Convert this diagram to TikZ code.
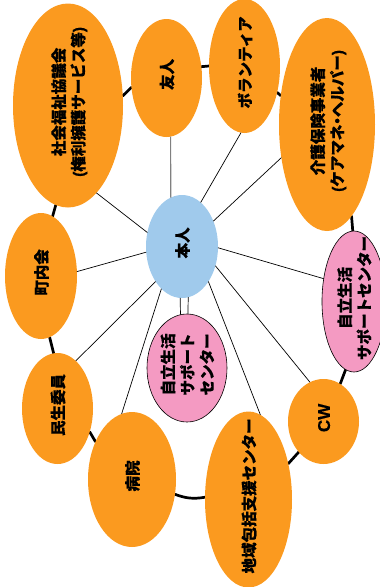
\documentclass[tikz,border=0pt]{standalone}
\usepackage{fontspec}
\usetikzlibrary{shapes.geometric,backgrounds}
\newfontfamily\jpfont[BoldFeatures={FakeBold=0.4}]{Noto Sans CJK JP}
\newfontfamily\latfont[BoldFeatures={FakeBold=0.4}]{Liberation Sans}
\definecolor{orangefill}{HTML}{FB9A1F}
\definecolor{bluefill}{HTML}{A0CAEC}
\definecolor{pinkfill}{HTML}{F49AC2}
\newcommand{\vlabel}[1]{\makebox[0pt]{\hspace{5pt}\raisebox{0pt}[0pt][0pt]{\rotatebox[origin=c]{90}{\fontsize{15.5}{19.5}\selectfont\jpfont\bfseries\begin{tabular}{@{}c@{}}#1\end{tabular}}}}}
\newcommand{\lat}[1]{{\latfont\bfseries #1}}
\tikzset{
  bubble/.style n args={2}{ellipse,inner sep=0pt,outer sep=0pt,minimum width=#1pt,minimum height=#2pt},
  org/.style={fill=orangefill,draw=none},
  me/.style={fill=bluefill,draw=none},
  sup/.style={fill=pinkfill,draw=black,line width=0.6pt},
  ring/.style={draw=black,line width=2.7pt,line cap=round},
  spoke/.style={draw=black,line width=0.7pt},
  greyspoke/.style={draw=gray,line width=1.2pt}
}
\begin{document}
\begin{tikzpicture}[x=1pt,y=-1pt]
\useasboundingbox (0,0) rectangle (380,587);
\clip (0,0) rectangle (380,587);
\node[bubble={110}{204},org] (shakyo) at (68,105.5) {\vlabel{社会福祉協議会\\\lat{(}権利擁護サービス等\lat{)}}};
\node[bubble={71}{118},org] (yujin) at (166.5,78) {\vlabel{友人}};
\node[bubble={71}{134},org] (vol) at (244.5,66) {\vlabel{ボランティア}};
\node[bubble={96}{213},org] (kaigo) at (327,124.5) {\vlabel{介護保険事業者\\\lat{(}ケアマネ\hspace{-4pt}・\hspace{-4pt}ヘルパー\lat{)}}};
\node[bubble={72}{103},me] (honnin) at (182,246.5) {\vlabel{本人}};
\node[bubble={72}{126},org] (chonai) at (41,276) {\vlabel{町内会}};
\node[bubble={64}{141},sup] (jiritsuR) at (354,301.5) {\vlabel{自立生活\\サポートセンター}};
\node[bubble={80}{108},sup] (jiritsuC) at (187,368) {\vlabel{自立生活\\サポート\\センター}};
\node[bubble={71}{111},org] (minsei) at (57.5,408.5) {\vlabel{民生委員}};
\node[bubble={88}{135},org] (byoin) at (132,479.5) {\vlabel{病院}};
\node[bubble={87}{176},org] (chiiki) at (248.5,499.5) {\vlabel{地域包括支援センター}};
\node[bubble={71}{85},org] (cw) at (323.5,421.5) {\vlabel{\fontsize{17}{20}\selectfont\lat{CW}}};
\draw[spoke] (honnin.158.6) -- (shakyo.-72.4);
\draw[greyspoke] (honnin.103.9) -- (yujin.-86.6);
\draw[spoke] (honnin.67.4) -- (vol.-93.4);
\draw[spoke] (honnin.39.5) -- (kaigo.-144);
\draw[spoke] (honnin.189) -- (chonai.7.9);
\draw[spoke] (honnin.-2.4) -- (jiritsuR.143);
\draw[spoke] (honnin.-30.6) -- (cw.109.7);
\draw[spoke] (honnin.-53) -- (chiiki.82.3);
\draw[spoke] (honnin.-92) -- (jiritsuC.97.4);
\draw[spoke] (honnin.-83) -- (jiritsuC.89);
\draw[spoke] (honnin.-116.7) -- (byoin.99.5);
\draw[spoke] (honnin.-127.3) -- (minsei.69);
\begin{scope}[on background layer]
\draw[ring] (shakyo.10.7) -- (yujin.195.7);
\draw[ring] (yujin.18.8) -- (vol.180);
\draw[ring] (vol.-39.3) -- (kaigo.148.7);
\draw[ring] (kaigo.-75) -- (jiritsuR.91);
\draw[ring] (jiritsuR.-97.5) -- (cw.66);
\draw[ring] (cw.-129) -- (chiiki.42.8);
\draw[ring] (chiiki.177.4) to[bend left=15] (byoin.-19);
\draw[ring] (byoin.134) -- (minsei.-36);
\draw[ring] (minsei.94) -- (chonai.-82);
\draw[ring] (chonai.79.5) -- (shakyo.-97.4);
\end{scope}
\end{tikzpicture}
\end{document}
